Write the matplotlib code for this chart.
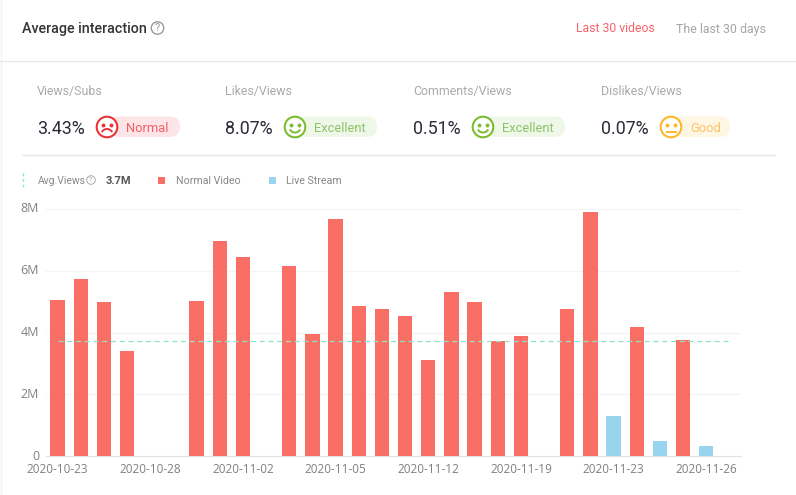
import matplotlib
matplotlib.use("Agg")
import matplotlib.pyplot as plt
from matplotlib.patches import Circle, FancyBboxPatch, Arc, Rectangle
from matplotlib.transforms import ScaledTranslation

W, H = 796, 495
categories = ["2020-10-23", "", "", "", "2020-10-28", "", "", "", "2020-11-02", "", "", "",
              "2020-11-05", "", "", "", "2020-11-12", "", "", "", "2020-11-19", "", "", "",
              "2020-11-23", "", "", "", "2020-11-26", ""]
normal_video = [5.05, 5.75, 5.0, 3.4, 0, 0, 5.03, 6.97, 6.45, 0, 6.15, 3.97, 7.67, 4.87, 4.78,
                4.53, 3.1, 5.3, 4.98, 3.73, 3.88, 0, 4.78, 7.9, 0, 4.17, 0, 3.75, 0, 0]
live_stream = [0, 0, 0, 0, 0, 0, 0, 0, 0, 0, 0, 0, 0, 0, 0,
               0, 0, 0, 0, 0, 0, 0, 0, 0, 1.3, 0, 0.48, 0, 0.32, 0]
avg_views = 3.72
y_ticks = [0, 2, 4, 6, 8]
y_labels = ["0", "2M", "4M", "6M", "8M"]
metrics = [("Views/Subs", "3.43%", "Normal"), ("Likes/Views", "8.07%", "Excellent"),
           ("Comments/Views", "0.51%", "Excellent"), ("Dislikes/Views", "0.07%", "Good")]

FONT = ["Roboto", "DejaVu Sans"]
plt.rcParams["font.family"] = FONT
RED, BLUE = "#f96f65", "#98d4ee"
MINT = "#8fe3cb"
fig = plt.figure(figsize=(W / 100, H / 100), dpi=100, facecolor="white")

# Pixel-space overlay for the page furniture
bg = fig.add_axes([0, 0, 1, 1])
bg.set_xlim(0, W); bg.set_ylim(H, 0); bg.axis("off")

bg.plot([1, 1], [0, H], color="#f2f2f2", lw=1)
bg.plot([0, W], [60.5, 60.5], color="#e8e8e8", lw=1)
bg.plot([22, 775], [154.5, 154.5], color="#e8e8e8", lw=1)
bg.text(22, 28.5, "Average interaction", fontsize=10.3, color="#333333", va="center", fontweight="medium")
bg.add_patch(Circle((157.5, 28), 6.2, fc="none", ec="#999999", lw=1))
bg.text(157.5, 28.3, "?", fontsize=8, color="#999999", ha="center", va="center")
bg.text(576, 29, "Last 30 videos", fontsize=8.8, color="#f9626a", va="center")
bg.text(676, 29, "The last 30 days", fontsize=8.9, color="#a5a5a5", va="center")

styles = {"Normal": ("#e8333a", "#fde4e6", "#f0606a", "sad"),
          "Excellent": ("#7cbc30", "#eff8e8", "#8cc468", "happy"),
          "Good": ("#fdb72b", "#fff7e4", "#fcc368", "flat")}
x_starts = [37, 225, 413, 601]
pill_w = [143, 152, 152, 129]
for (name, val, status), x0, pw in zip(metrics, x_starts, pill_w):
    ec, pill, tc, mood = styles[status]
    bg.text(x0, 92, name, fontsize=8.9, color="#aaaaaa", va="center")
    bg.text(x0, 128.5, val, fontsize=12.8, color="#2a2a38", va="center", fontweight="regular")
    cx = x0 + 70
    bg.add_patch(FancyBboxPatch((cx + 2, 116.5), pw - 72, 20.5,
                                boxstyle="round,pad=0,rounding_size=10.2", fc=pill, ec="none"))
    bg.add_patch(Circle((cx, 127), 10.3, fc="white", ec=ec, lw=1.5))
    bg.plot([cx - 4], [124.5], "o", ms=1.8, color=ec)
    bg.plot([cx + 4], [124.5], "o", ms=1.8, color=ec)
    if mood == "happy":
        bg.add_patch(Arc((cx, 127.5), 11, 10, theta1=20, theta2=160, color=ec, lw=1.4))
    elif mood == "sad":
        bg.add_patch(Arc((cx, 134), 11, 10, theta1=200, theta2=340, color=ec, lw=1.4))
    else:
        bg.plot([cx - 4.5, cx + 4.5], [131.5, 131.5], color=ec, lw=1.4)
    bg.text(cx + 19, 128, status, fontsize=9.3, color=tc, va="center")

# Legend row
bg.plot([22.5, 22.5], [173, 187], color=MINT, lw=1, ls=(0, (2, 2)))
bg.text(38, 180.5, "Avg.Views", fontsize=7.5, color="#888888", va="center")
bg.add_patch(Circle((91, 180), 4.3, fc="none", ec="#aaaaaa", lw=0.7))
bg.text(91, 180.2, "?", fontsize=5.5, color="#aaaaaa", ha="center", va="center")
bg.text(106, 180.5, "3.7M", fontsize=7.9, color="#555555", va="center", fontweight="bold")
bg.add_patch(Rectangle((158, 177), 7, 7, fc=RED, ec="none"))
bg.text(175.5, 180.5, "Normal Video", fontsize=7.7, color="#888888", va="center")
bg.add_patch(Rectangle((269, 177), 7, 7, fc=BLUE, ec="none"))
bg.text(286.5, 180.5, "Live Stream", fontsize=7.7, color="#888888", va="center")

# Chart
ax_l, ax_r, ax_t, ax_b = 46, 741, 209, 456.3
ax = fig.add_axes([ax_l / W, 1 - ax_b / H, (ax_r - ax_l) / W, (ax_b - ax_t) / H])
ax.patch.set_alpha(0)
x = list(range(len(categories)))
ax.bar(x, normal_video, width=0.62, color=RED, zorder=3)
ax.bar(x, live_stream, width=0.62, color=BLUE, zorder=3)
ax.plot([x[0], x[-1]], [avg_views, avg_views], color=MINT, lw=0.9, ls=(0, (4, 3)), zorder=4)
ax.set_xlim(-0.5, 29.5)
ax.set_ylim(0, 8)
ax.set_yticks(y_ticks, y_labels)
ticks = [i for i, c in enumerate(categories) if c]
ax.set_xticks(ticks, [categories[i] for i in ticks])
ax.grid(axis="y", color="#f3f3f3", lw=0.8, zorder=0)
ax.set_axisbelow(True)
for s in ("top", "right", "left"):
    ax.spines[s].set_visible(False)
ax.spines["bottom"].set_color("#e2e2e2")
ax.tick_params(axis="x", length=0, labelcolor="#808080", labelsize=8.5, pad=5)
ax.tick_params(axis="y", length=0, labelcolor="#808080", labelsize=9, pad=5)
for lab in ax.get_xticklabels() + ax.get_yticklabels():
    lab.set_family(["Open Sans", "DejaVu Sans"])
lift = ScaledTranslation(0, 1.5 / 100, fig.dpi_scale_trans)
for lab in ax.get_yticklabels():
    lab.set_transform(lab.get_transform() + lift)

fig.savefig("out.png", dpi=100)
